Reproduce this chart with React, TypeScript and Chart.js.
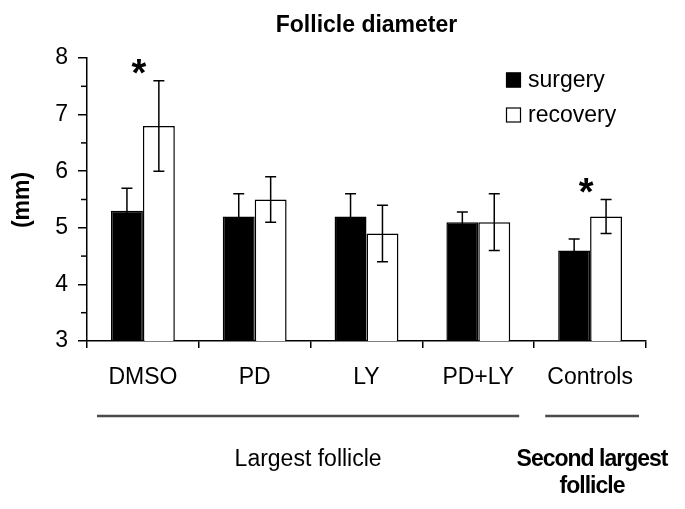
import React, { useEffect, useRef } from "react";
import { Chart, registerables } from "chart.js";

Chart.register(...registerables);

// ---- data ----
const categories = ["DMSO", "PD", "LY", "PD+LY", "Controls"];
const seriesLabels = ["surgery", "recovery"];
const surgery = [5.3, 5.2, 5.2, 5.1, 4.6];
const surgeryErr = [0.4, 0.4, 0.4, 0.18, 0.2];
const recovery = [6.8, 5.5, 4.9, 5.1, 5.2];
const recoveryErr = [0.8, 0.4, 0.5, 0.5, 0.3];
const starCategories = [0, 4];
const starValues = [7.85, 5.76];
const groupLabels = [["Largest follicle"], ["Second largest", "follicle"]];
const groupRanges = [
  [0, 3],
  [4, 4],
];
const yMin = 3;
const yMax = 8;
const yStep = 0.5;
const titleText = "Follicle diameter";
const yTitle = "(mm)";

const FONT = "'Liberation Sans', Arial, sans-serif";

const overlayPlugin = {
  id: "overlay",
  afterDatasetsDraw(chart: any) {
    const ctx = chart.ctx;
    const y = chart.scales.y;
    const x = chart.scales.x;
    const errs = [surgeryErr, recoveryErr];
    const vals = [surgery, recovery];
    ctx.save();
    ctx.strokeStyle = "#000";
    ctx.lineWidth = 1.5;
    for (let d = 0; d < 2; d++) {
      const meta = chart.getDatasetMeta(d);
      meta.data.forEach((bar: any, i: number) => {
        const v = vals[d][i];
        const e = errs[d][i];
        const top = y.getPixelForValue(v + e);
        const bot = y.getPixelForValue(v - e);
        const cx = bar.x;
        const cap = 5.5;
        ctx.beginPath();
        ctx.moveTo(cx, top);
        ctx.lineTo(cx, bot);
        ctx.moveTo(cx - cap, top);
        ctx.lineTo(cx + cap, top);
        ctx.moveTo(cx - cap, bot);
        ctx.lineTo(cx + cap, bot);
        ctx.stroke();
      });
    }
    // minor y ticks (shorter)
    const left = chart.chartArea.left;
    y.ticks.forEach((t: any) => {
      if (!Number.isInteger(t.value)) {
        const py = y.getPixelForValue(t.value);
        ctx.beginPath();
        ctx.moveTo(left - 6, py);
        ctx.lineTo(left, py);
        ctx.stroke();
      }
    });
    // significance stars
    ctx.fillStyle = "#000";
    ctx.font = `bold 38px ${FONT}`;
    ctx.textAlign = "center";
    ctx.textBaseline = "alphabetic";
    starCategories.forEach((c, k) => {
      const cx = x.getPixelForValue(c) - 4;
      const cy = y.getPixelForValue(starValues[k]);
      ctx.fillText("*", cx, cy + 20);
    });
    ctx.restore();
  },
  afterDraw(chart: any) {
    const ctx = chart.ctx;
    const area = chart.chartArea;
    const x = chart.scales.x;
    ctx.save();
    ctx.fillStyle = "#000";
    // title
    ctx.font = `bold 23px ${FONT}`;
    ctx.textAlign = "center";
    ctx.textBaseline = "middle";
    ctx.fillText(titleText, (area.left + area.right) / 2, 26);
    // y axis title
    ctx.save();
    ctx.translate(23, 200);
    ctx.rotate(-Math.PI / 2);
    ctx.font = `bold 23px ${FONT}`;
    ctx.fillText(yTitle, 0, 0);
    ctx.restore();
    // legend
    const ds = chart.data.datasets;
    const legendX = 506;
    const legendYs = [80, 115];
    ds.forEach((d: any, i: number) => {
      const cy = legendYs[i];
      ctx.fillStyle = d.backgroundColor;
      ctx.fillRect(legendX, cy - 7.5, 15, 15);
      ctx.strokeStyle = "#000";
      ctx.lineWidth = 1.2;
      ctx.strokeRect(legendX + 0.5, cy - 7, 14, 14);
      ctx.fillStyle = "#000";
      ctx.font = `23px ${FONT}`;
      ctx.textAlign = "left";
      ctx.textBaseline = "middle";
      ctx.fillText(d.label, legendX + 22, cy + 1);
    });
    // group lines & labels
    const half = (x.getPixelForValue(1) - x.getPixelForValue(0)) / 2;
    const insets = [
      [10, 15],
      [11, 7],
    ];
    groupRanges.forEach((r, g) => {
      const l = x.getPixelForValue(r[0]) - half + insets[g][0];
      const rr = x.getPixelForValue(r[1]) + half - insets[g][1];
      ctx.strokeStyle = "#4a4a4a";
      ctx.lineWidth = 2.5;
      ctx.beginPath();
      ctx.moveTo(l, 416);
      ctx.lineTo(rr, 416);
      ctx.stroke();
      const bold = g === 1;
      ctx.fillStyle = "#000";
      ctx.textAlign = "center";
      ctx.textBaseline = "middle";
      ctx.font = bold ? `bold 23px ${FONT}` : `23px ${FONT}`;
      if (bold) (ctx as any).letterSpacing = "-1px";
      groupLabels[g].forEach((t, li) => {
        ctx.fillText(t, bold ? 592 : (l + rr) / 2, 460 + li * 27);
      });
      (ctx as any).letterSpacing = "0px";
    });
    ctx.restore();
  },
};

export default function App() {
  const ref = useRef<HTMLCanvasElement | null>(null);
  useEffect(() => {
    if (!ref.current) return;
    const chart = new Chart(ref.current, {
      type: "bar",
      data: {
        labels: categories,
        datasets: [
          {
            label: seriesLabels[0],
            data: surgery,
            backgroundColor: "#000",
            borderColor: "#000",
            borderWidth: 1.5,
            categoryPercentage: 0.571,
            barPercentage: 1,
          },
          {
            label: seriesLabels[1],
            data: recovery,
            backgroundColor: "#fff",
            borderColor: "#000",
            borderWidth: 1.5,
            categoryPercentage: 0.571,
            barPercentage: 1,
          },
        ],
      },
      options: {
        animation: false,
        responsive: false,
        devicePixelRatio: 1,
        layout: { padding: { left: 0, top: 58, right: 39, bottom: 0 } },
        plugins: {
          legend: { display: false },
          title: { display: false },
          tooltip: { enabled: false },
        },
        scales: {
          x: {
            grid: {
              offset: true,
              drawOnChartArea: false,
              tickLength: 7,
              color: "#000",
              lineWidth: 1.5,
            },
            border: { display: true, color: "#000", width: 1.5 },
            ticks: {
              color: "#000",
              font: { size: 23, family: FONT },
              padding: 16,
              maxRotation: 0,
            },
            afterFit: (s: any) => {
              s.height = 168;
            },
          },
          y: {
            min: yMin,
            max: yMax,
            grid: {
              drawOnChartArea: false,
              tickLength: 9,
              color: (c: any) =>
                c.tick && Number.isInteger(c.tick.value) ? "#000" : "rgba(0,0,0,0)",
              lineWidth: 1.5,
            },
            border: { display: true, color: "#000", width: 1.5 },
            ticks: {
              stepSize: yStep,
              autoSkip: false,
              color: "#000",
              font: { size: 23, family: FONT },
              padding: 10,
              callback: (v: any) => (Number.isInteger(v) ? String(v) : ""),
            },
            afterFit: (s: any) => {
              s.width = 87;
            },
          },
        },
      },
      plugins: [overlayPlugin],
    });
    return () => chart.destroy();
  }, []);
  return (
    <div style={{ position: "absolute", left: 0, top: 0, width: 685, height: 509, background: "#fff" }}>
      <canvas ref={ref} width={685} height={509} />
    </div>
  );
}
